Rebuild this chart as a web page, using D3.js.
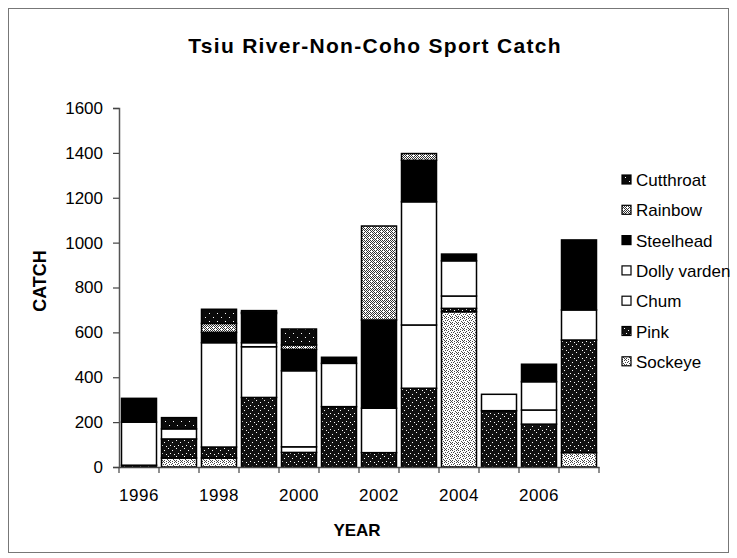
<!DOCTYPE html>
<html><head><meta charset="utf-8">
<script src="https://cdn.jsdelivr.net/npm/d3@7"></script>
<style>body{margin:0;background:#fff;} text{font-family:"Liberation Sans",Arial,sans-serif;fill:#000;}</style>
</head><body>
<svg id="chart" width="737" height="558"></svg>
<script>
const years = [1996,1997,1998,1999,2000,2001,2002,2003,2004,2005,2006,2007];
const yearLabels = ["1996","","1998","","2000","","2002","","2004","","2006",""];
const seriesNames = ["Sockeye","Pink","Chum","Dolly varden","Steelhead","Rainbow","Cutthroat"];
const sockeye     = [0, 40, 40, 0, 0, 0, 0, 0, 692, 0, 0, 64];
const pink        = [8, 85, 49, 310, 65, 269, 64, 351, 15, 251, 191, 502];
const chum        = [192, 45, 465, 226, 25, 193, 198, 282, 55, 73, 63, 134];
const dollyVarden = [0, 0, 0, 18, 339, 0, 0, 549, 157, 0, 126, 0];
const steelhead   = [106, 0, 46, 130, 95, 27, 393, 185, 30, 0, 78, 312];
const rainbow     = [0, 0, 40, 5, 20, 0, 419, 30, 0, 0, 0, 0];
const cutthroat   = [0, 50, 63, 8, 71, 0, 0, 0, 0, 0, 0, 0];
const yTicks = [0,200,400,600,800,1000,1200,1400,1600];
const legendOrder = ["Cutthroat","Rainbow","Steelhead","Dolly varden","Chum","Pink","Sockeye"];

const seriesData = [sockeye,pink,chum,dollyVarden,steelhead,rainbow,cutthroat];
const rows = years.map((yr,i)=>{const r={year:yr}; seriesNames.forEach((n,k)=>r[n]=seriesData[k][i]); return r;});

const svg = d3.select("#chart");
const defs = svg.append("defs");
function speckle(id, size, bg, fg, pts){
  const p = defs.append("pattern").attr("id",id).attr("width",size).attr("height",size).attr("patternUnits","userSpaceOnUse");
  p.append("rect").attr("width",size).attr("height",size).attr("fill",bg);
  pts.forEach(([a,b])=>p.append("rect").attr("x",a).attr("y",b).attr("width",1).attr("height",1).attr("fill",fg));
}
speckle("pCut",8,"#0a0a0a","#fff",[[1,1],[5,5]]);
speckle("pPink",8,"#111","#fff",[[0,0],[4,2],[2,5],[6,6]]);
speckle("pRain",6,"#fff","#333",[[0,0],[2,0],[4,0],[1,1],[3,1],[5,1],[0,2],[2,2],[4,2],[1,3],[5,3],[0,4],[2,4],[4,4],[1,5],[3,5]]);
speckle("pSock",6,"#fff","#444",[[0,0],[2,0],[4,1],[1,2],[3,2],[5,3],[0,4],[2,4],[4,5],[1,5]]);
const fills = {"Sockeye":"url(#pSock)","Pink":"url(#pPink)","Chum":"#fff","Dolly varden":"#fff","Steelhead":"#000","Rainbow":"url(#pRain)","Cutthroat":"url(#pCut)"};

// frame
svg.append("rect").attr("x",8.5).attr("y",8.5).attr("width",720).attr("height",544).attr("fill","none").attr("stroke","#777").attr("stroke-width",1);

const x = d3.scaleBand().domain(years).range([119,599]).paddingInner(0.125).paddingOuter(0.0625);
const y = d3.scaleLinear().domain([0,1600]).range([467,108]);

const stack = d3.stack().keys(seriesNames)(rows);
const g = svg.append("g");
stack.forEach(layer=>{
  g.selectAll(null).data(layer.filter(d=>d[1]-d[0]>0)).enter().append("rect")
    .attr("x",d=>x(d.data.year)).attr("width",x.bandwidth())
    .attr("y",d=>y(d[1])).attr("height",d=>y(d[0])-y(d[1]))
    .attr("fill",fills[layer.key]).attr("stroke","#000").attr("stroke-width",1.5);
});

// y axis
const yAxis = d3.axisLeft(y).tickValues(yTicks).tickSize(6).tickPadding(10).tickFormat(d3.format("d"));
const ya = svg.append("g").attr("transform","translate(119,0)").call(yAxis);
ya.select(".domain").attr("stroke","#555").attr("stroke-width",1.5);
ya.selectAll(".tick line").attr("stroke","#444").attr("stroke-width",1.2);
ya.selectAll("text").style("font-size","17px").attr("fill","#000");

// x axis
const xAxis = d3.axisBottom(x).tickSize(0).tickPadding(22).tickFormat((d,i)=>yearLabels[i]);
const xa = svg.append("g").attr("transform","translate(0,467)").call(xAxis);
xa.select(".domain").attr("stroke","#444").attr("stroke-width",1.5);
xa.selectAll("text").style("font-size","17px").style("letter-spacing","0.6px").attr("fill","#000");
const bounds = d3.range(years.length+1).map(i=>x.range()[0]+i*x.step());
xa.selectAll(".bnd").data(bounds).enter().append("line").attr("class","bnd")
  .attr("x1",d=>d).attr("x2",d=>d).attr("y1",0).attr("y2",6).attr("stroke","#444").attr("stroke-width",1.2);

// titles
svg.append("text").attr("x",375).attr("y",53).attr("text-anchor","middle").style("font-size","21px").style("font-weight","bold").style("letter-spacing","1.3px").text("Tsiu River-Non-Coho Sport Catch");
svg.append("text").attr("x",357).attr("y",536).attr("text-anchor","middle").style("font-size","17px").style("font-weight","bold").text("YEAR");
svg.append("text").attr("transform","translate(46,281) rotate(-90)").attr("text-anchor","middle").style("font-size","18px").style("font-weight","bold").text("CATCH");

// legend
const lg = svg.append("g");
legendOrder.forEach((n,i)=>{
  const cy = 180 + i*30.3;
  lg.append("rect").attr("x",622).attr("y",cy-5).attr("width",9).attr("height",9).attr("fill",fills[n]).attr("stroke","#000").attr("stroke-width",1.2);
  lg.append("text").attr("x",636).attr("y",cy+6).style("font-size","17px").text(n);
});
</script>
</body></html>
